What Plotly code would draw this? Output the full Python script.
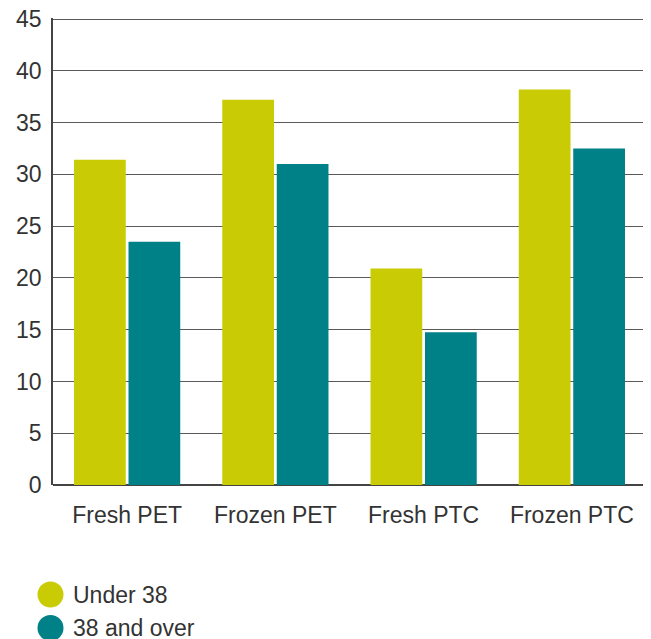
import plotly.graph_objects as go

categories = ["Fresh PET", "Frozen PET", "Fresh PTC", "Frozen PTC"]
under_38 = [31.4, 37.2, 20.9, 38.2]
over_38 = [23.5, 31.0, 14.75, 32.5]
series_names = ["Under 38", "38 and over"]
colors = ["#C9CC05", "#008087"]
y_ticks = [0, 5, 10, 15, 20, 25, 30, 35, 40, 45]

# page body has an 8px default margin, so the figure sits at (8, 8)
OFF = 8
W, H = 651 - OFF, 639 - OFF
ML, MT = 45, 10
MR = W - (646 - OFF)
MB = H - (485 - OFF)
font_family = "Liberation Sans, Arial, sans-serif"
txt = "#333333"

fig = go.Figure()
for name, vals, c in zip(series_names, [under_38, over_38], colors):
    fig.add_trace(go.Bar(x=categories, y=vals, name=name, marker_color=c,
                         marker_line_width=0, showlegend=False))

ph = H - MT - MB
pw = W - ML - MR
def py(p):
    return (H - MB - (p - OFF)) / ph
def px(p):
    return ((p - OFF) - ML) / pw

shapes = []
annotations = []
legend_y = [594.5, 628]
for name, c, yy in zip(series_names, colors, legend_y):
    shapes.append(dict(type="circle", xref="paper", yref="paper",
                       xsizemode="pixel", ysizemode="pixel",
                       xanchor=px(50.5), yanchor=py(yy),
                       x0=-13, x1=13, y0=-13, y1=13,
                       fillcolor=c, line_width=0))
    annotations.append(dict(xref="paper", yref="paper",
                            x=px(71), y=py(yy),
                            xanchor="left", yanchor="middle", text=name,
                            showarrow=False,
                            font=dict(family=font_family, size=23, color=txt)))

fig.update_layout(
    template="none",
    width=W, height=H,
    margin=dict(l=ML, r=MR, t=MT, b=MB, pad=0),
    paper_bgcolor="white", plot_bgcolor="white",
    barmode="group", bargap=0.265, bargroupgap=0.05,
    font=dict(family=font_family, size=22, color=txt),
    shapes=shapes, annotations=annotations,
    showlegend=False,
)
fig.update_yaxes(range=[0, 45.1], tickvals=y_ticks, showgrid=True,
                 automargin=False,
                 gridcolor="#5a5a5a", gridwidth=1.2,
                 showline=True, linecolor="#444444", linewidth=1.5,
                 zeroline=True, zerolinecolor="#444444", zerolinewidth=1.5,
                 ticks="outside", ticklen=5, tickcolor="white",
                 ticklabeloverflow="allow",
                 tickfont=dict(size=23, color=txt))
fig.update_xaxes(showgrid=False, showline=False, zeroline=False,
                 automargin=False,
                 ticks="outside", ticklen=9, tickcolor="white",
                 tickfont=dict(size=23, color=txt))

fig.write_html("out.html")
